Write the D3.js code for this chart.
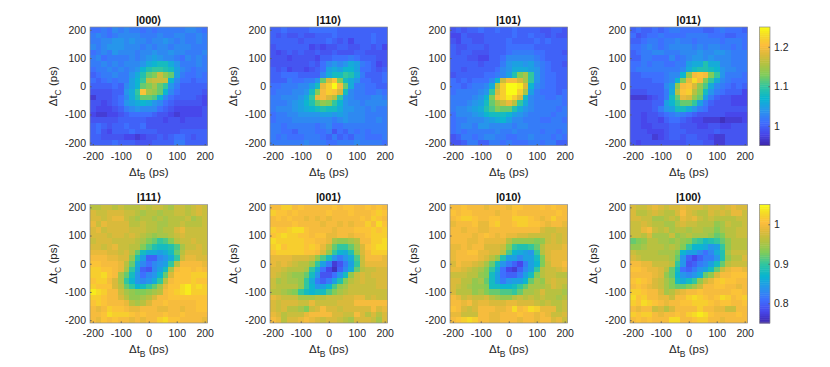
<!DOCTYPE html>
<html>
<head>
<meta charset="utf-8">
<script src="https://cdn.jsdelivr.net/npm/d3@7"></script>
<style>
  html, body { margin: 0; padding: 0; background: #fff; }
  text { font-family: "Liberation Sans", Arial, sans-serif; fill: #262626; }
  .tick text { font-size: 10.5px; }
  .lab { font-size: 11.5px; }
  .title { font-size: 11px; font-weight: bold; fill: #111; }
</style>
</head>
<body>
<div id="chart"></div>
<script>
// values are ratio x 100, rows run from dt_C = +200 down to -200
var z000 = [
[101,101,102,101,103,102,103,102,102,101,102,101,102,102,102,102,102,103,103,102,101],
[102,103,102,101,102,103,103,103,103,102,102,102,103,102,102,103,103,102,102,103,102],
[102,102,103,103,104,104,103,104,103,103,102,103,103,104,103,102,103,102,102,103,102],
[103,102,103,104,104,104,103,103,103,102,103,102,103,103,102,103,103,103,102,102,102],
[101,102,103,102,104,103,103,103,102,103,103,104,103,103,104,103,103,102,102,102,103],
[102,103,101,102,102,102,102,103,102,103,104,105,104,103,103,102,101,103,102,103,102],
[102,102,103,102,103,102,103,103,103,104,106,107,108,108,106,104,102,102,102,103,102],
[101,102,102,103,102,103,102,103,104,107,109,110,110,109,108,105,103,102,101,102,102],
[100,101,102,102,103,102,102,104,106,109,112,113,117,114,112,105,102,101,101,102,101],
[101,100,101,102,101,102,102,105,107,110,116,117,117,117,107,103,101,101,100,101,101],
[100,100,100,100,101,100,103,105,107,112,113,115,112,110,104,102,100,100,100,100,100],
[99,99,99,99,100,100,104,106,110,121,115,114,112,107,103,101,100,100,100,100,99],
[97,99,99,99,100,101,103,106,109,112,112,111,107,103,101,100,100,100,100,99,98],
[99,99,98,99,100,101,104,105,106,107,106,104,103,101,100,99,99,99,99,99,98],
[99,98,98,98,99,100,102,103,104,103,103,103,101,100,99,98,98,98,98,98,99],
[98,97,97,98,98,99,100,101,101,101,101,100,99,99,98,97,98,98,98,98,99],
[99,99,99,99,99,100,100,100,100,100,99,99,99,98,99,99,98,99,99,99,99],
[100,101,100,99,100,100,101,100,100,101,99,99,99,99,99,99,99,99,99,99,99],
[100,101,99,98,100,100,100,101,100,100,100,100,99,99,99,99,100,100,100,100,100],
[100,100,99,99,99,99,98,98,97,98,99,99,100,99,100,101,101,100,99,100,100],
[100,100,100,100,101,100,100,100,99,99,99,100,100,100,100,102,102,100,100,100,100]
];
var z110 = [
[100,100,101,100,100,100,100,101,101,101,101,101,100,100,100,100,100,100,100,100,100],
[100,99,100,99,99,100,99,99,100,100,100,101,100,100,100,100,100,100,101,100,100],
[100,100,100,100,100,99,100,100,100,100,101,100,99,100,98,100,100,100,101,100,100],
[99,100,100,100,100,100,100,98,99,98,99,99,100,100,99,99,100,100,99,100,98],
[99,98,99,100,99,100,99,99,100,99,99,100,99,99,99,100,100,99,99,99,99],
[99,99,99,98,99,99,99,99,98,100,100,101,101,101,102,101,100,100,100,99,99],
[99,99,99,99,99,99,99,100,99,101,103,104,103,104,106,105,102,101,100,98,99],
[100,99,100,98,99,99,98,99,100,101,105,106,105,107,107,105,101,101,100,99,100],
[100,100,101,101,101,100,100,100,100,103,106,108,108,110,109,106,102,100,100,100,101],
[100,100,100,102,101,101,102,102,104,112,118,121,113,108,106,104,101,101,100,100,101],
[101,101,102,102,102,103,103,105,108,119,122,125,120,112,106,102,102,101,101,100,100],
[101,102,102,102,103,103,104,108,113,120,122,121,118,108,103,102,102,101,101,102,101],
[102,102,103,103,103,104,106,110,119,120,118,116,110,104,103,102,102,102,103,103,102],
[102,102,102,103,104,105,107,109,112,114,113,110,107,104,103,103,102,103,103,103,103],
[102,103,103,103,104,105,106,107,108,109,108,108,106,104,104,103,103,102,103,102,102],
[101,102,102,103,103,104,104,104,104,105,105,104,105,104,103,103,103,102,102,102,102],
[101,102,102,102,103,103,103,103,103,103,103,102,103,104,103,103,103,102,102,103,102],
[102,102,101,102,102,102,102,102,101,102,103,101,101,102,102,102,102,102,102,102,102],
[102,102,101,101,100,102,102,102,101,101,102,99,101,100,102,101,102,101,102,102,102],
[102,101,102,101,101,101,102,102,102,101,100,102,100,101,100,102,102,101,101,101,102],
[102,102,102,102,102,102,103,102,102,102,101,101,102,102,102,103,102,102,102,102,101]
];
var z101 = [
[99,100,99,100,100,101,100,100,101,100,100,101,100,100,100,100,99,99,100,100,99],
[98,98,100,99,99,99,100,100,100,100,100,101,100,100,101,100,100,99,100,99,99],
[99,98,100,100,99,99,100,100,100,100,101,100,100,100,100,101,100,101,100,100,100],
[100,99,99,100,100,100,99,100,100,100,101,101,101,101,101,100,100,100,100,100,100],
[100,99,100,100,99,99,99,100,100,100,101,102,102,102,102,101,101,100,100,100,99],
[100,100,100,99,99,98,98,100,100,101,103,103,103,103,103,102,101,100,100,100,100],
[100,100,100,100,100,99,100,100,100,102,104,105,105,104,105,103,102,101,100,100,99],
[100,100,99,100,100,100,100,100,101,103,104,106,106,106,105,104,102,101,100,100,100],
[99,100,100,100,100,100,101,101,102,103,105,109,113,115,110,104,102,101,101,100,100],
[101,100,101,100,101,101,101,103,107,117,120,120,118,115,110,104,102,101,101,100,100],
[101,101,100,101,102,102,103,106,116,122,126,126,124,118,107,103,102,101,101,100,100],
[101,102,102,102,102,103,104,110,118,122,126,126,122,115,105,102,101,101,101,100,101],
[102,102,102,102,103,104,107,113,120,122,124,122,118,108,103,102,102,101,101,102,101],
[102,102,102,103,104,105,108,112,115,117,119,116,110,106,103,102,102,102,102,102,101],
[102,103,103,104,105,106,109,111,113,112,112,109,106,104,103,102,102,102,102,101,102],
[101,103,103,103,104,105,107,108,108,108,107,105,104,103,102,102,102,102,101,102,102],
[101,102,102,103,103,103,104,105,106,107,105,103,103,102,102,102,101,101,102,102,101],
[101,102,103,103,102,104,104,103,103,103,103,102,103,103,102,102,102,102,102,102,102],
[101,102,101,102,102,102,102,102,103,102,102,103,102,102,102,102,101,102,102,101,102],
[99,100,102,102,101,102,103,103,102,102,101,101,102,102,103,102,102,102,101,102,101],
[99,99,100,102,102,100,100,102,102,101,102,101,101,101,102,102,101,102,102,100,100]
];
var z011 = [
[100,101,100,100,101,100,101,102,102,101,101,101,101,100,100,101,102,101,101,101,100],
[101,99,100,101,101,102,101,101,101,101,102,102,102,102,101,101,101,100,100,101,101],
[100,100,101,102,102,101,102,102,103,102,102,101,102,102,102,102,101,102,102,102,101],
[101,101,102,103,102,101,102,103,103,103,103,102,103,102,103,103,102,102,101,102,101],
[100,101,102,102,103,103,102,102,102,103,103,103,104,103,103,104,104,103,102,102,102],
[100,100,102,102,101,101,101,103,101,102,103,104,104,103,104,103,103,103,102,102,102],
[101,101,102,101,102,102,101,101,102,102,105,106,106,109,106,106,103,103,102,102,102],
[101,102,102,102,102,102,102,102,102,103,106,108,109,109,108,107,104,103,103,102,102],
[100,100,101,101,101,101,102,103,103,107,114,120,121,120,113,110,104,102,102,102,101],
[100,100,100,100,101,101,102,103,107,113,119,123,120,113,110,106,103,102,101,101,101],
[100,100,100,100,100,100,103,105,114,120,121,118,114,111,106,103,102,101,100,101,100],
[99,99,99,100,100,100,102,106,116,121,122,116,113,108,104,102,101,100,100,100,98],
[97,97,97,98,99,100,102,108,112,119,118,114,112,105,102,100,99,99,98,98,98],
[99,99,99,99,100,100,105,107,110,112,112,110,105,102,100,99,99,99,98,98,98],
[99,99,99,99,100,102,104,105,108,108,106,104,102,101,99,99,99,99,99,99,99],
[99,99,98,99,99,100,101,102,103,102,101,100,99,99,99,99,99,98,98,98,98],
[99,99,98,99,99,98,100,101,101,100,99,98,98,97,97,97,96,97,97,97,98],
[99,99,98,98,99,99,99,100,100,99,99,99,98,98,99,99,98,98,99,99,99],
[99,99,99,98,98,98,99,100,100,100,99,99,99,99,99,100,99,99,99,99,99],
[99,99,99,99,97,98,99,100,100,99,100,100,99,99,98,97,97,99,99,99,99],
[99,98,99,99,99,99,99,99,99,99,100,100,100,99,99,97,97,99,99,99,99]
];
var z111 = [
[96,96,97,97,96,97,96,96,96,97,96,97,97,96,95,97,97,96,97,98,97],
[98,97,97,98,98,98,97,97,96,95,96,96,95,96,96,97,97,96,97,98,97],
[98,98,97,98,99,99,97,96,95,96,96,95,96,95,96,96,96,97,95,96,97],
[99,97,99,98,98,98,98,96,96,97,96,96,95,95,96,96,97,96,96,96,97],
[98,99,97,98,98,98,98,97,97,97,96,96,95,96,96,98,99,97,97,97,97],
[98,98,98,97,98,98,97,98,97,96,95,94,95,95,96,97,98,97,97,97,97],
[97,98,98,98,97,97,97,97,96,95,93,92,90,91,93,96,97,97,98,97,97],
[98,98,97,98,99,97,97,96,96,93,91,89,88,88,89,91,95,97,97,98,97],
[99,99,99,98,98,97,98,96,92,88,86,86,85,86,88,92,96,98,98,98,97],
[100,100,100,99,99,98,98,94,89,85,80,80,83,84,86,90,97,99,99,98,98],
[101,101,100,100,100,99,96,92,86,83,81,83,84,85,90,96,100,100,100,100,99],
[102,102,101,101,100,99,95,90,85,80,79,83,85,88,95,100,101,101,100,101,100],
[102,102,103,101,100,95,92,88,84,81,83,84,87,92,98,101,101,101,102,102,102],
[101,102,102,100,98,95,90,87,84,83,84,86,90,96,100,101,101,101,102,101,101],
[102,101,101,101,98,96,92,90,87,88,90,92,95,99,101,101,103,104,102,103,102],
[104,103,102,100,100,97,95,94,93,93,94,95,96,100,101,102,103,104,102,102,102],
[102,102,101,100,100,98,96,94,94,95,96,98,100,100,101,101,101,101,101,101,101],
[101,102,101,100,100,100,99,96,95,96,98,100,100,101,100,100,100,100,100,101,101],
[100,99,100,102,101,101,100,99,99,100,100,100,99,99,100,100,99,100,100,101,101],
[100,100,101,103,102,102,102,101,100,101,100,100,100,101,100,100,101,100,100,100,100],
[100,99,101,100,101,100,100,99,100,99,100,100,102,103,101,101,100,100,100,100,99]
];
var z001 = [
[100,100,102,102,100,101,100,100,100,100,100,101,100,101,101,100,100,101,100,101,100],
[102,101,101,100,101,100,100,100,100,100,101,100,100,100,101,100,100,100,101,102,101],
[100,101,100,101,100,100,99,100,99,100,99,100,100,100,100,100,101,100,102,101,100],
[100,100,100,100,101,100,100,100,100,99,100,100,99,100,99,100,100,102,100,103,101],
[102,101,101,102,103,103,101,100,100,100,100,99,100,100,100,101,101,101,102,101,102],
[101,102,103,102,102,101,101,100,101,101,99,99,100,100,99,100,100,101,102,102,102],
[103,102,102,102,102,102,101,101,100,100,99,95,94,94,95,96,100,100,102,102,103],
[102,103,101,102,102,102,101,102,101,99,96,92,90,90,92,95,98,101,102,103,103],
[101,102,102,102,102,102,101,101,100,98,94,90,87,86,89,94,98,100,102,102,102],
[99,99,99,99,98,98,98,97,94,91,88,84,82,84,86,91,97,100,100,100,99],
[99,98,99,98,97,96,96,94,90,85,82,77,79,82,85,90,97,99,99,99,99],
[98,98,97,96,96,96,95,90,86,81,78,76,80,83,86,92,96,97,97,98,98],
[98,97,96,95,94,94,92,88,84,79,79,81,84,88,94,97,98,97,98,98,98],
[97,95,96,95,95,94,90,86,82,80,82,85,89,93,96,97,98,97,97,98,98],
[97,96,96,96,96,94,90,87,84,85,87,91,94,95,97,97,97,97,97,98,98],
[96,96,95,94,93,90,88,87,88,88,91,93,95,96,97,97,97,97,97,97,97],
[99,98,97,97,97,95,95,95,96,96,97,97,97,98,98,99,99,97,98,97,97],
[98,97,98,98,98,97,97,99,97,97,97,97,98,98,98,100,100,100,100,100,100],
[98,97,98,96,96,95,93,97,98,100,98,98,97,98,98,98,98,98,100,98,99],
[99,98,96,97,97,97,99,100,100,100,100,98,98,97,97,100,98,96,98,96,98],
[100,99,96,98,98,99,100,99,98,97,98,98,97,96,95,98,98,98,97,95,98]
];
var z010 = [
[100,100,101,100,100,100,99,100,100,100,99,101,101,100,100,100,101,100,101,100,100],
[101,100,101,101,100,100,100,100,99,100,100,101,100,100,100,100,100,100,100,101,100],
[100,101,102,102,101,100,100,101,101,100,100,102,102,102,101,100,99,100,102,100,100],
[99,100,100,100,101,99,99,101,102,100,100,101,102,102,101,101,100,99,100,100,99],
[100,100,99,100,100,99,99,100,100,100,100,100,100,100,100,100,98,97,97,98,98],
[100,100,100,100,99,100,101,100,99,100,99,99,98,98,97,97,97,97,98,97,98],
[100,100,100,99,99,100,99,99,99,99,96,94,94,94,94,93,94,97,98,97,98],
[99,99,100,99,100,100,98,98,98,97,93,90,89,89,90,92,96,98,98,98,99],
[99,100,100,101,101,99,99,98,98,96,91,87,86,85,84,90,96,98,99,99,99],
[99,100,100,100,100,99,98,96,94,89,85,85,83,85,85,88,93,98,99,99,99],
[98,100,99,99,98,97,95,92,88,84,82,80,78,82,85,87,93,97,99,99,100],
[99,99,98,97,96,95,93,90,86,81,78,77,80,83,85,90,96,97,97,98,99],
[97,97,97,96,96,94,93,88,85,81,80,80,82,85,88,93,96,97,97,96,96],
[98,98,96,96,94,95,92,88,85,82,84,85,85,87,92,95,94,97,98,97,97],
[98,97,96,95,94,94,93,88,88,87,87,88,90,92,95,95,95,96,98,97,96],
[98,96,96,96,94,95,93,92,92,91,91,90,92,95,95,96,98,96,96,96,95],
[100,99,97,98,97,97,98,96,95,94,94,96,97,96,97,96,97,96,96,95,96],
[100,100,99,100,98,99,99,98,98,98,99,99,98,98,98,97,96,97,96,96,97],
[101,100,98,97,98,100,100,100,99,99,100,103,100,101,103,102,99,99,99,96,97],
[99,99,97,97,97,100,100,99,99,100,100,100,101,100,100,99,100,99,97,97,98],
[100,101,102,103,102,100,100,99,99,100,100,100,99,100,100,99,100,100,98,99,97]
];
var z100 = [
[98,97,97,98,99,98,97,98,98,99,98,98,98,97,98,98,97,98,99,98,98],
[98,96,96,97,98,97,96,96,98,100,98,97,96,96,98,97,98,97,99,99,97],
[98,98,97,97,95,95,96,97,96,99,98,99,97,96,97,96,96,96,96,97,97],
[97,97,98,97,96,96,95,95,97,98,97,97,96,96,96,94,95,97,96,96,97],
[97,97,99,100,97,96,97,95,96,96,95,96,96,95,95,93,95,96,96,97,97],
[97,97,96,98,95,95,95,97,94,95,96,95,95,95,94,92,93,96,96,97,97],
[92,93,94,96,96,95,95,94,95,94,93,91,90,88,89,90,92,94,96,96,96],
[94,94,95,96,96,96,95,96,95,93,90,87,87,86,84,85,90,94,96,96,96],
[97,96,96,96,96,95,95,95,93,87,85,85,83,81,83,86,89,95,97,97,97],
[98,97,96,96,96,96,96,95,92,84,80,78,80,82,82,84,89,94,96,96,98],
[100,100,99,99,97,97,97,96,90,84,79,80,82,83,85,88,92,96,97,97,97],
[101,101,100,99,99,98,96,92,88,81,80,82,84,85,88,92,97,99,100,100,99],
[100,100,100,100,99,98,94,92,87,84,83,84,86,92,94,98,100,100,101,101,101],
[101,102,101,100,98,97,95,93,88,86,88,90,94,97,99,101,102,101,101,100,100],
[100,101,100,99,98,97,95,93,92,92,93,95,97,100,100,101,101,100,100,99,100],
[102,102,101,100,100,98,95,96,98,99,100,100,101,100,100,100,100,100,101,101,100],
[103,101,102,100,100,99,99,97,100,100,102,103,102,101,100,101,103,102,100,101,102],
[102,101,103,102,101,100,99,100,100,101,101,102,102,102,101,100,101,101,100,100,101],
[100,99,100,100,97,98,96,98,100,100,100,100,102,100,100,99,99,97,97,100,100],
[102,101,102,102,100,99,100,100,101,100,102,103,104,103,101,100,100,100,100,101,100],
[100,101,100,101,100,100,100,103,103,100,100,101,102,102,100,100,99,100,100,100,100]
];
var xTicks = [-200, -100, 0, 100, 200];
var yTicks = [-200, -100, 0, 100, 200];
var delays = d3.range(-200, 201, 20);
var topTicks = [1, 1.1, 1.2];
var bottomTicks = [0.8, 0.9, 1];
var parulaAt = [0, 0.1, 0.2, 0.3, 0.4, 0.5, 0.6, 0.7, 0.78, 0.85, 0.92, 1];
var parula = ["#3e26a8","#4747eb","#3e6ffe","#2796eb","#08b5d0","#31c69f","#81cc59","#b8c13f","#e0b93a","#fdbd3d","#f5d52a","#f9fb15"];

var lefts = [90, 270, 450, 630];
var tops = [27, 204.5];
var w = 117.5, h = 118.5;
var cbX = 759.5, cbW = 10.5;

var rows = [
  { top: tops[0], domain: [0.95, 1.25], ticks: topTicks, panels: [["|000⟩", z000], ["|110⟩", z110], ["|101⟩", z101], ["|011⟩", z011]] },
  { top: tops[1], domain: [0.75, 1.05], ticks: bottomTicks, panels: [["|111⟩", z111], ["|001⟩", z001], ["|010⟩", z010], ["|100⟩", z100]] }
];

var svg = d3.select("#chart").append("svg")
  .attr("width", 830)
  .attr("height", 367)
  .style("display", "block");

// the reference is a slightly soft raster
var defs = svg.append("defs");
defs.append("filter").attr("id", "soft")
  .attr("x", "-5%").attr("y", "-5%").attr("width", "110%").attr("height", "110%")
  .append("feGaussianBlur").attr("stdDeviation", 0.55);
defs.append("clipPath").attr("id", "plotclip")
  .append("rect").attr("width", 117.5).attr("height", 118.5);

var x = d3.scaleLinear().domain([-210, 210]).range([0, w]);
var y = d3.scaleLinear().domain([-210, 210]).range([h, 0]);

function box(g) {
  g.append("rect")
    .attr("width", w).attr("height", h)
    .attr("fill", "none").attr("stroke", "#8a8a8a").attr("stroke-width", 0.7);
}

rows.forEach(function(row) {
  var frac = d3.scaleLinear().domain(row.domain).range([0, 1]);
  var stops = d3.scaleLinear().domain(parulaAt).range(parula);
  var color = function(v) { return stops(Math.max(0, Math.min(1, frac(v)))); };

  row.panels.forEach(function(p, i) {
    var g = svg.append("g").attr("transform", "translate(" + lefts[i] + "," + row.top + ")");
    var clip = g.append("g").attr("clip-path", "url(#plotclip)");
    var cells = clip.append("g");

    p[1].forEach(function(values, r) {
      cells.selectAll("rect.r" + r)
        .data(values)
        .enter()
        .append("rect")
          .attr("class", "r" + r)
          .attr("x", function(d, c) { return x(delays[c] - 10); })
          .attr("y", y(delays[20 - r] + 10))
          .attr("width", x(20) - x(0))
          .attr("height", y(0) - y(20))
          .attr("shape-rendering", "crispEdges")
          .style("fill", function(d) { return color(d / 100); });
    });
    // soft copy on top of the sharp cells, so the edges stay filled
    cells.clone(true).attr("filter", "url(#soft)");

    var ax = g.append("g")
      .attr("transform", "translate(0," + h + ")")
      .call(d3.axisBottom(x).tickValues(xTicks).tickFormat(String).tickSizeInner(-1.5).tickSizeOuter(0).tickPadding(7));
    var ay = g.append("g")
      .call(d3.axisLeft(y).tickValues(yTicks).tickFormat(String).tickSizeInner(-1.5).tickSizeOuter(0).tickPadding(4));
    [ax, ay].forEach(function(a) {
      a.select(".domain").remove();
      a.selectAll("line").attr("stroke", "#555");
    });
    box(g);

    g.append("text").attr("class", "title")
      .attr("x", w / 2).attr("y", -3.5)
      .attr("text-anchor", "middle")
      .text(p[0]);

    var xl = g.append("text").attr("class", "lab")
      .attr("x", w / 2).attr("y", h + 30)
      .attr("text-anchor", "middle");
    xl.append("tspan").text("Δt");
    xl.append("tspan").attr("dy", 3.5).style("font-size", "8.5px").text("B");
    xl.append("tspan").attr("dy", -3.5).text(" (ps)");

    var yl = g.append("text").attr("class", "lab")
      .attr("transform", "translate(-33," + (h / 2) + ") rotate(-90)")
      .attr("text-anchor", "middle");
    yl.append("tspan").text("Δt");
    yl.append("tspan").attr("dy", 3.5).style("font-size", "8.5px").text("C");
    yl.append("tspan").attr("dy", -3.5).text(" (ps)");
  });

  // colorbar
  var cb = svg.append("g").attr("transform", "translate(" + cbX + "," + row.top + ")");
  var cy = d3.scaleLinear().domain(row.domain).range([h, 0]);
  var step = (row.domain[1] - row.domain[0]) / 64;
  var levels = d3.range(64).map(function(i) { return row.domain[0] + step * i; });
  cb.selectAll("rect.lv")
    .data(levels)
    .enter()
    .append("rect")
      .attr("class", "lv")
      .attr("x", 0)
      .attr("y", function(d) { return cy(d + step); })
      .attr("width", cbW)
      .attr("height", function(d) { return cy(d) - cy(d + step) + 0.5; })
      .style("fill", function(d) { return color(d + step / 2); });
  var ca = cb.append("g")
    .attr("transform", "translate(" + cbW + ",0)")
    .call(d3.axisRight(cy).tickValues(row.ticks).tickFormat(String).tickSizeInner(-1.5).tickSizeOuter(0).tickPadding(4));
  ca.select(".domain").remove();
  ca.selectAll("line").attr("stroke", "#555");
  cb.append("rect")
    .attr("width", cbW).attr("height", h)
    .attr("fill", "none").attr("stroke", "#8a8a8a").attr("stroke-width", 0.7);
});
</script>
</body>
</html>
